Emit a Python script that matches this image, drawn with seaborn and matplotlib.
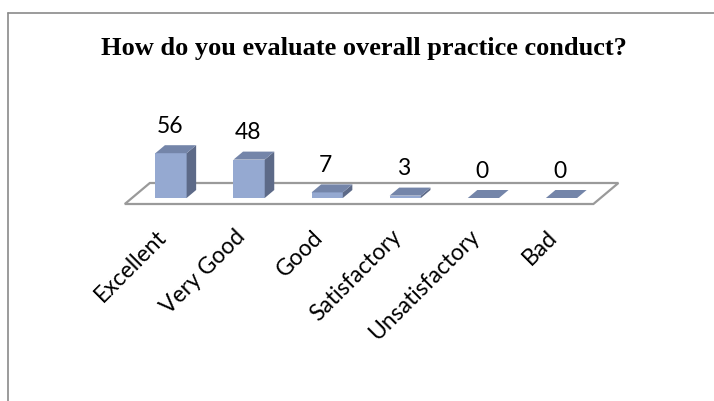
import matplotlib
matplotlib.use("Agg")
import matplotlib.pyplot as plt
import matplotlib.transforms as mtransforms
import seaborn as sns
from matplotlib.patches import Polygon
from matplotlib.lines import Line2D

categories = ["Excellent", "Very Good", "Good", "Satisfactory", "Unsatisfactory", "Bad"]
counts = [56, 48, 7, 3, 0, 0]
title = "How do you evaluate overall practice conduct?"

# colours of the 3D-looking bars
FRONT = "#95A9D1"
SIDE = "#5D6A88"
TOP = "#7485A9"
FLOOR_EDGE = "#9a9a9a"

# depth vector of one bar (x in category units, y in value units)
DX, DY = 0.122, 10.0
BAR_W = 0.40

sns.set_theme(style="white")
plt.rcParams["font.family"] = ["Lato", "DejaVu Sans"]

fig = plt.figure(figsize=(7.14, 4.01), dpi=100)
ax = fig.add_axes([0, 0, 1, 1])

# floor slab under the bars
n = len(categories)
x0, x1 = -0.5, n - 0.5
d0, d1 = -0.75, 1.875
floor = Polygon([(x0 + d0 * DX, d0 * DY), (x1 + d0 * DX, d0 * DY),
                 (x1 + d1 * DX, d1 * DY), (x0 + d1 * DX, d1 * DY)],
                closed=True, facecolor="white", edgecolor=FLOOR_EDGE,
                linewidth=1.6, zorder=1)
ax.add_patch(floor)

sns.barplot(x=categories, y=counts, color=FRONT, saturation=1, width=BAR_W,
            linewidth=0, ax=ax, zorder=3)

# side and top faces built from each front bar
for bar in list(ax.patches):
    if bar is floor:
        continue
    bx, bw, bh = bar.get_x(), bar.get_width(), bar.get_height()
    side = Polygon([(bx + bw, 0), (bx + bw, bh), (bx + bw + DX, bh + DY), (bx + bw + DX, DY)],
                   closed=True, facecolor=SIDE, edgecolor="none", zorder=3)
    top = Polygon([(bx, bh), (bx + bw, bh), (bx + bw + DX, bh + DY), (bx + DX, bh + DY)],
                  closed=True, facecolor=TOP, edgecolor="none", zorder=3)
    ax.add_patch(side)
    ax.add_patch(top)

# value labels above each bar
for i, v in enumerate(counts):
    ax.annotate(str(v), (i, v + DY), xytext=(-1, 9), textcoords="offset points",
                ha="center", va="baseline", fontsize=16.5, color="black")

# pixel-matched limits
ax.set_xlim(-171 / 78.1, (714 - 171) / 78.1)
ax.set_ylim((198 - 401) / 0.8, 198 / 0.8)

# spine position first: it resets the tick objects
ax.spines["bottom"].set_position(("data", d0 * DY))
for s in ax.spines.values():
    s.set_visible(False)
ax.set_xticks(range(n))
ax.set_xticklabels(categories, rotation=45, ha="right", va="top",
                   rotation_mode="anchor", fontsize=16.5, color="black")
ax.tick_params(axis="x", length=0, pad=16)
shift = mtransforms.ScaledTranslation(-15 / 100, 0, fig.dpi_scale_trans)
for lab in ax.get_xticklabels():
    lab.set_transform(lab.get_transform() + shift)
ax.set_yticks([])
ax.set_xlabel("")
ax.set_ylabel("")
ax.set_facecolor("white")

fig.text(0.51, 1 - 55 / 401, title, ha="center", va="baseline", color="black",
         fontsize=19, fontweight="bold", family="Liberation Serif")

# outer chart frame (left and top edges only)
fx, fy = 7.5 / 714, 1 - 12.5 / 401
fig.add_artist(Line2D([fx, fx], [0, fy], color="#8a8a8a", linewidth=1.2))
fig.add_artist(Line2D([fx, 1], [fy, fy], color="#8a8a8a", linewidth=1.2))

fig.savefig("out.png", dpi=100, facecolor="white")
